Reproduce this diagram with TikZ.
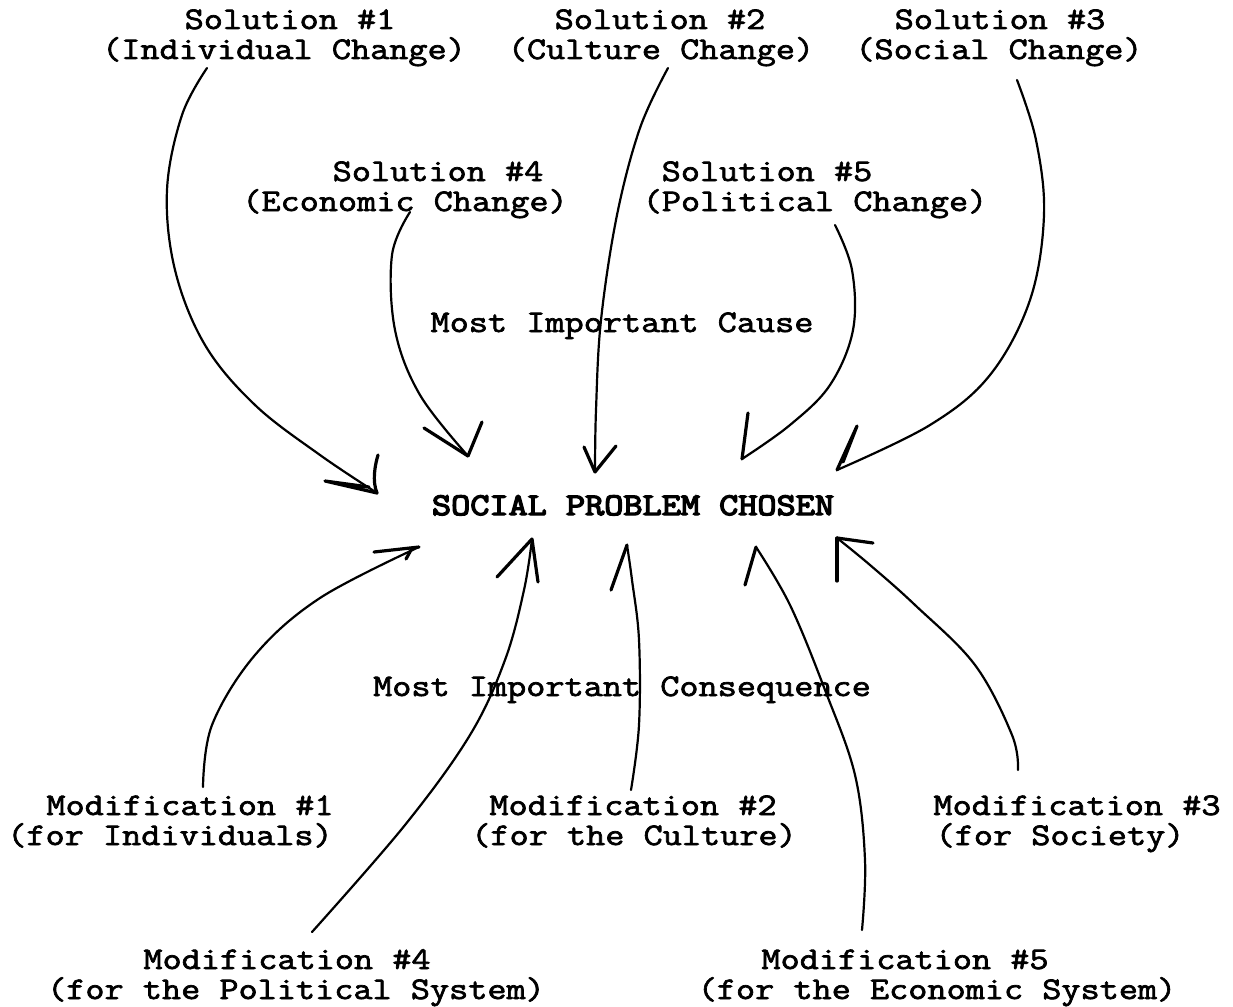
\documentclass[tikz,border=0pt]{standalone}
\usepackage{fontspec}
\newfontfamily\labelfont[FakeBold=2.2, FakeStretch=1.18]{Latin Modern Mono}
\newfontfamily\headfont[FakeBold=4.5, FakeStretch=1.18]{Latin Modern Mono}
\begin{document}
\begin{tikzpicture}[x=1pt,y=-1pt,
  lbl/.style={inner sep=0pt, anchor=base, font=\labelfont\fontsize{31.5}{32}\selectfont},
  head/.style={inner sep=0pt, anchor=base, font=\headfont\fontsize{31.5}{32}\selectfont},
  shaft/.style={line width=2.2pt, line cap=round, line join=round},
  barb/.style={line width=3.2pt, line cap=round, line join=round}]
\useasboundingbox[fill=white] (0,0) rectangle (1233,1006);

% --- labels ---------------------------------------------------------
\node[lbl] (s1a) at (290,29)  {Solution \#1};
\node[lbl] (s1b) at (284,59)  {(Individual Change)};
\node[lbl] (s2a) at (660,29)  {Solution \#2};
\node[lbl] (s2b) at (661,59)  {(Culture Change)};
\node[lbl] (s3a) at (1000,29) {Solution \#3};
\node[lbl] (s3b) at (999,59)  {(Social Change)};
\node[lbl] (s4a) at (438,181) {Solution \#4};
\node[lbl] (s4b) at (405,211) {(Economic Change)};
\node[lbl] (s5a) at (767,181) {Solution \#5};
\node[lbl] (s5b) at (815,211) {(Political Change)};

\node[lbl]  (cause) at (622,332) {Most Important Cause};
\node[head] (prob)  at (633,515) {SOCIAL PROBLEM CHOSEN};
\node[lbl]  (cons)  at (622,696) {Most Important Consequence};

\node[lbl] (m1a) at (190,815)  {Modification \#1};
\node[lbl] (m1b) at (170,845)  {(for Individuals)};
\node[lbl] (m2a) at (633,815)  {Modification \#2};
\node[lbl] (m2b) at (634,845)  {(for the Culture)};
\node[lbl] (m3a) at (1077,815) {Modification \#3};
\node[lbl] (m3b) at (1060,845) {(for Society)};
\node[lbl] (m4a) at (287,969)  {Modification \#4};
\node[lbl] (m4b) at (296,999)  {(for the Political System)};
\node[lbl] (m5a) at (905,969)  {Modification \#5};
\node[lbl] (m5b) at (937,999)  {(for the Economic System)};

% --- connector ends ---------------------------------------------------
\coordinate (p1) at (207,68);   \coordinate (t1) at (377,493);
\coordinate (p2) at (668,68);   \coordinate (t2) at (595,472);
\coordinate (p3) at (1017,80);  \coordinate (t3) at (837,470);
\coordinate (p4) at (410,212);  \coordinate (t4) at (468,456);
\coordinate (p5) at (835,225);  \coordinate (t5) at (742,459);

\coordinate (q1) at (203,787);  \coordinate (u1) at (419,547);
\coordinate (q2) at (631,790);  \coordinate (u2) at (627,545);
\coordinate (q3) at (1018,770); \coordinate (u3) at (837,538);
\coordinate (q4) at (312,932);  \coordinate (u4) at (532,539);
\coordinate (q5) at (862,930);  \coordinate (u5) at (756,547);

% --- solutions lead into the problem ------------------------------------
\draw[shaft] plot[smooth, tension=0.6] coordinates
  {(p1) (182,115) (167,190) (175,270) (205,345) (255,405) (320,455) (t1)};
\draw[barb] (t1) -- ++(-52,-12) -- ++(44,6);
\draw[barb] (t1) .. controls ++(-5,-12) and ++(-3,10) .. ++(1,-38);

\draw[shaft] plot[smooth, tension=0.6] coordinates
  {(p2) (640,128) (617,215) (601,320) (596,410) (t2)};
\draw[barb] (t2) -- ++(-11,-25);
\draw[barb] (t2) -- ++(21,-26);

\draw[shaft] plot[smooth, tension=0.6] coordinates
  {(p3) (1036,140) (1044,215) (1030,300) (990,375) (930,425) (t3)};
\draw[barb] (t3) -- ++(20,-44) -- ++(-14,36);

\draw[shaft] plot[smooth, tension=0.6] coordinates
  {(p4) (392,255) (395,330) (420,395) (t4)};
\draw[barb] (t4) -- ++(-44,-28);
\draw[barb] (t4) -- ++(14,-34);

\draw[shaft] plot[smooth, tension=0.6] coordinates
  {(p5) (852,270) (853,330) (830,385) (790,425) (t5)};
\draw[barb] (t5) -- ++(6,-46);

% --- modifications lead back to the problem ----------------------------
\draw[shaft] plot[smooth, tension=0.6] coordinates
  {(q1) (212,725) (255,655) (320,598) (u1)};
\draw[barb] (u1) -- ++(-45,5);
\draw[barb] (u1) ++(-8,3) -- ++(-5,9);

\draw[shaft] plot[smooth, tension=0.6] coordinates
  {(q2) (639,725) (639,640) (632,580) (u2)};
\draw[barb] (u2) -- ++(-16,45);

\draw[shaft] plot[smooth, tension=0.6] coordinates
  {(q3) (1012,735) (975,665) (915,605) (870,565) (u3)};
\draw[barb] (u3) -- ++(0,43);
\draw[barb] (u3) -- ++(36,5);

\draw[shaft] plot[smooth, tension=0.6] coordinates
  {(q4) (405,825) (470,735) (505,660) (524,590) (u4)};
\draw[barb] (u4) -- ++(-35,38);
\draw[barb] (u4) -- ++(6,43);

\draw[shaft] plot[smooth, tension=0.6] coordinates
  {(q5) (865,860) (855,775) (825,690) (790,605) (u5)};
\draw[barb] (u5) -- ++(-11,38);
\end{tikzpicture}
\end{document}
